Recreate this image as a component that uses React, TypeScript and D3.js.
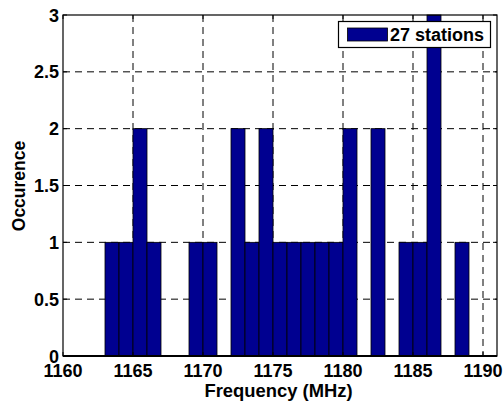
import React from "react";
import * as d3 from "d3";

const binStarts = [1160,1161,1162,1163,1164,1165,1166,1167,1168,1169,1170,1171,1172,1173,1174,1175,1176,1177,1178,1179,1180,1181,1182,1183,1184,1185,1186,1187,1188];
const counts =    [0,0,0,1,1,2,1,0,0,1,1,0,2,1,2,1,1,1,1,1,2,0,2,0,1,1,3,0,1];
const xTicks = [1160,1165,1170,1175,1180,1185,1190];
const yTicks = [0,0.5,1,1.5,2,2.5,3];
const legendLabel = "27 stations";
const xLabel = "Frequency (MHz)";
const yLabel = "Occurence";

const W = 503, H = 403;
const L = 63, R = 497, T = 15, B = 356;
const FONT = "'Liberation Sans', Arial, sans-serif";
const BAR = "#000090";

export default function App() {
  const x = d3.scaleLinear().domain([1160, 1191]).range([L, R]);
  const y = d3.scaleLinear().domain([0, 3]).range([B, T]);
  const dash = "7,5";
  return (
    <svg width={W} height={H} style={{ position: "absolute", left: 0, top: 0, background: "#fff" }}>
      <rect x={0} y={0} width={W} height={H} fill="#fff" />
      {xTicks.filter(t => t > 1160).map(t => (
        <line key={"gx" + t} x1={x(t)} x2={x(t)} y1={T} y2={B} stroke="#000" strokeWidth={1} strokeDasharray={dash} />
      ))}
      {yTicks.filter(t => t > 0 && t < 3).map(t => (
        <line key={"gy" + t} x1={L} x2={R} y1={y(t)} y2={y(t)} stroke="#000" strokeWidth={1} strokeDasharray={dash} />
      ))}
      {binStarts.map((s, i) => (
        <rect key={"b" + s} x={x(s)} y={y(counts[i])} width={x(s + 1) - x(s)} height={B - y(counts[i])}
          fill={BAR} stroke="#000" strokeWidth={0.8} />
      ))}
      <rect x={L} y={T} width={R - L} height={B - T} fill="none" stroke="#000" strokeWidth={1.2} />
      <line x1={L} x2={R} y1={B} y2={B} stroke="#000" strokeWidth={2} />
      {xTicks.map(t => (
        <g key={"tx" + t}>
          <line x1={x(t)} x2={x(t)} y1={B} y2={B - 4} stroke="#000" />
          <line x1={x(t)} x2={x(t)} y1={T} y2={T + 4} stroke="#000" />
          <text x={x(t)} y={B + 20.5} textAnchor="middle" fontFamily={FONT} fontWeight="bold" fontSize={18}>{t}</text>
        </g>
      ))}
      {yTicks.map(t => (
        <g key={"ty" + t}>
          <line x1={L} x2={L + 4} y1={y(t)} y2={y(t)} stroke="#000" />
          <line x1={R} x2={R - 4} y1={y(t)} y2={y(t)} stroke="#000" />
          <text x={L - 4} y={y(t) + 6.5} textAnchor="end" fontFamily={FONT} fontWeight="bold" fontSize={18}>{t}</text>
        </g>
      ))}
      <text x={278.5} y={397} textAnchor="middle" fontFamily={FONT} fontWeight="bold" fontSize={18.4}>{xLabel}</text>
      <text transform={`translate(25,186) rotate(-90)`} textAnchor="middle" fontFamily={FONT} fontWeight="bold" fontSize={17.5}>{yLabel}</text>
      <rect x={338.5} y={21.5} width={152} height={26} fill="#fff" stroke="#000" strokeWidth={1.2} />
      <rect x={347.5} y={28} width={40} height={13} fill={BAR} stroke="#000" strokeWidth={0.8} />
      <text x={390} y={41} fontFamily={FONT} fontWeight="bold" fontSize={18}>{legendLabel}</text>
    </svg>
  );
}
